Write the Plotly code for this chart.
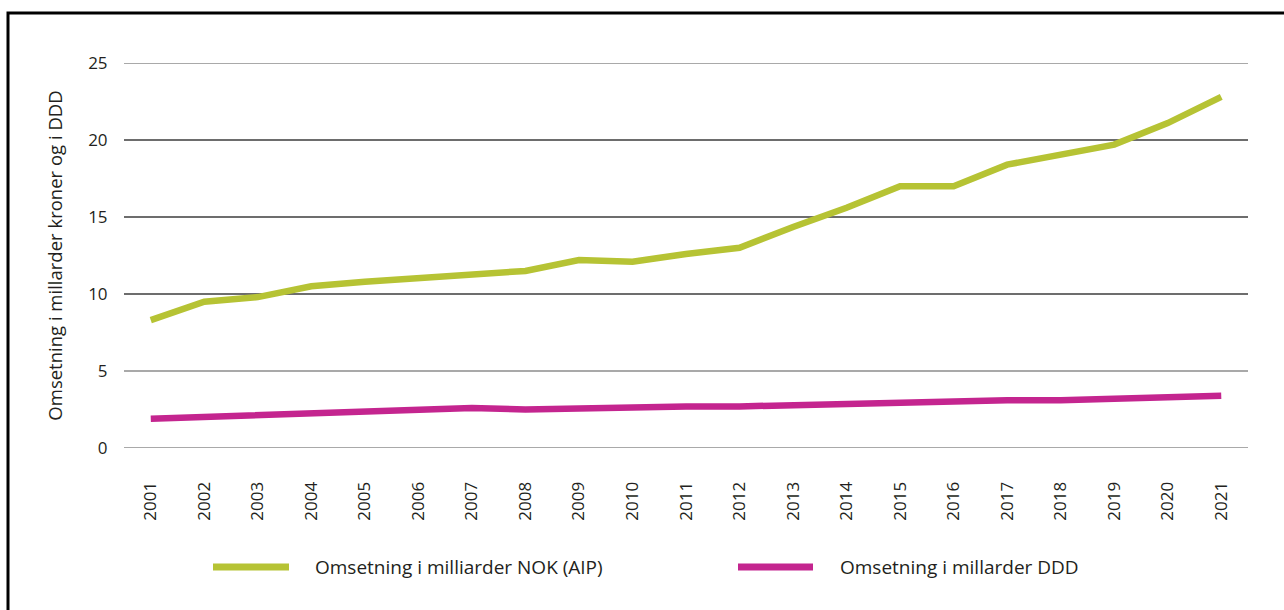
import plotly.graph_objects as go

years = [str(y) for y in range(2001, 2022)]
nok_aip = [8.3, 9.5, 9.8, 10.5, 10.8, 11.0, 11.3, 11.5, 12.2, 12.1, 12.6,
           13.0, 14.35, 15.6, 17.0, 17.0, 18.4, 19.1, 19.7, 21.1, 22.8]
ddd = [1.9, 2.0, 2.2, 2.3, 2.4, 2.5, 2.6, 2.5, 2.6, 2.6, 2.7,
       2.7, 2.8, 2.9, 2.9, 3.0, 3.1, 3.1, 3.2, 3.3, 3.4]
y_ticks = [0, 5, 10, 15, 20, 25]

series_names = ["Omsetning i milliarder NOK (AIP)", "Omsetning i millarder DDD"]
y_title = "Omsetning i millarder kroner og i DDD"

GREEN = "#b6c334"
MAGENTA = "#c4258f"
TEXT = "#231f20"
GRID_LIGHT = "#8c8c8c"
GRID_DARK = "#3c3c3c"
FONT = "Open Sans, Noto Sans, sans-serif"

W, H = 1284, 610
L, R, T, B = 124, 36, 63, 162
plot_w = W - L - R
plot_h = H - T - B


def px_x(px):
    return (px - L) / plot_w


def px_y(py):
    return (H - B - py) / plot_h


fig = go.Figure()

# Horizontal gridlines, outer ones lighter than the inner ones
for v in y_ticks:
    shade = GRID_DARK if 0 < v < max(y_ticks) and v >= 10 else GRID_LIGHT
    fig.add_hline(y=v, line=dict(color=shade, width=1.3), layer="below")

fig.add_trace(go.Scatter(x=years, y=nok_aip, mode="lines", name=series_names[0],
                         line=dict(color=GREEN, width=6.5)))
fig.add_trace(go.Scatter(x=years, y=ddd, mode="lines", name=series_names[1],
                         line=dict(color=MAGENTA, width=6.5)))

fig.update_layout(
    width=W, height=H,
    margin=dict(l=L, r=R, t=T, b=B, autoexpand=False),
    paper_bgcolor="white", plot_bgcolor="white",
    font=dict(family=FONT, size=17, color=TEXT),
    showlegend=False,
    xaxis=dict(type="category", range=[-0.5, 20.5], tickangle=-90,
               showgrid=False, showline=False, zeroline=False,
               ticks="outside", ticklen=0, ticklabelstandoff=26,
               tickfont=dict(size=17)),
    yaxis=dict(range=[0, 25], tickvals=y_ticks, showgrid=False,
               zeroline=False, showline=False, ticks="outside", ticklen=0,
               ticklabelstandoff=12, tickfont=dict(size=17),
               title=dict(text=y_title, font=dict(size=18.5), standoff=20)),
)

# Legend drawn below the axis: a line sample followed by its label
legend_items = [(213, 289, 313, GREEN, series_names[0]),
                (738, 813, 838, MAGENTA, series_names[1])]
for x0, x1, tx, color, label in legend_items:
    fig.add_shape(type="line", xref="paper", yref="paper",
                  x0=px_x(x0), x1=px_x(x1), y0=px_y(567), y1=px_y(567),
                  line=dict(color=color, width=7))
    fig.add_annotation(xref="paper", yref="paper", x=px_x(tx), y=px_y(567),
                       xanchor="left", yanchor="middle", showarrow=False,
                       text=label, font=dict(size=19, color=TEXT))

# Frame around the figure (top and left edges visible)
fig.add_shape(type="rect", xref="paper", yref="paper",
              x0=px_x(8), x1=px_x(W + 60), y0=px_y(H + 60), y1=px_y(13),
              line=dict(color="black", width=3), fillcolor="rgba(0,0,0,0)",
              layer="below")

fig.write_html("out.html")
